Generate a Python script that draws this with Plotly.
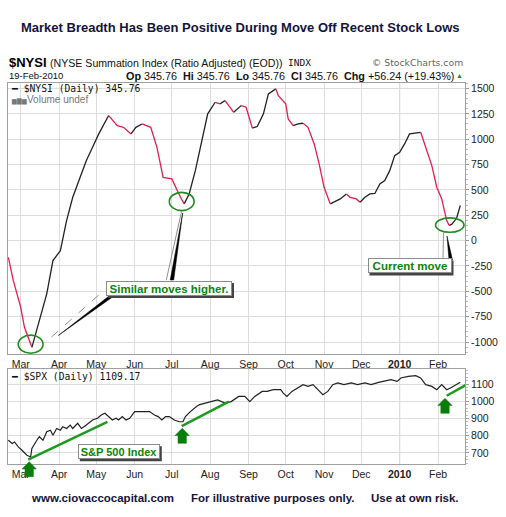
import plotly.graph_objects as go

# NYSE Summation Index (ratio adjusted)
nysi_dates = [
    "2009-02-19", "2009-02-23", "2009-03-01", "2009-03-04", "2009-03-10", "2009-03-16",
    "2009-03-22", "2009-03-27", "2009-04-02", "2009-04-07", "2009-04-12", "2009-04-17",
    "2009-04-23", "2009-04-28", "2009-05-03", "2009-05-11", "2009-05-18", "2009-05-23",
    "2009-05-29", "2009-06-02", "2009-06-07", "2009-06-14", "2009-06-19", "2009-06-24",
    "2009-07-01", "2009-07-04", "2009-07-08", "2009-07-11", "2009-07-15", "2009-07-20",
    "2009-07-25", "2009-07-30", "2009-08-05", "2009-08-09", "2009-08-13", "2009-08-20",
    "2009-08-26", "2009-08-30", "2009-09-04", "2009-09-08", "2009-09-13", "2009-09-17",
    "2009-09-23", "2009-09-25", "2009-10-01", "2009-10-03", "2009-10-07", "2009-10-11",
    "2009-10-15", "2009-10-19", "2009-10-24", "2009-10-28", "2009-11-01", "2009-11-06",
    "2009-11-12", "2009-11-14", "2009-11-19", "2009-11-22", "2009-11-27", "2009-11-30",
    "2009-12-04", "2009-12-08", "2009-12-12", "2009-12-16", "2009-12-20", "2009-12-24",
    "2009-12-28", "2010-01-01", "2010-01-05", "2010-01-09", "2010-01-14", "2010-01-18",
    "2010-01-22", "2010-01-27", "2010-01-31", "2010-02-04", "2010-02-08", "2010-02-10",
    "2010-02-12", "2010-02-16", "2010-02-17", "2010-02-18", "2010-02-19",
]
nysi_values = [
    -165, -395, -658, -855, -1052, -789,
    -525, -197, -99, 197, 427, 592,
    789, 920, 1052, 1233, 1134, 1117,
    1052, 1117, 1150, 1117, 920, 624,
    608, 526, 427, 362, 460, 690,
    986, 1250, 1364, 1348, 1381, 1265,
    1331, 1315, 1110, 1125, 1250, 1447,
    1496, 1430, 1348, 1200, 1134, 1150,
    1157, 1117, 953, 756, 526, 362,
    394, 411, 460, 427, 411, 378,
    427, 460, 465, 559, 592, 690,
    838, 871, 953, 1052, 1060, 1068,
    920, 739, 526, 411, 197, 150,
    160, 220, 255, 290, 345.76,
]

# S&P 500
spx_dates = [
    "2009-02-19", "2009-02-22", "2009-02-24", "2009-02-27", "2009-03-02", "2009-03-06",
    "2009-03-09", "2009-03-10", "2009-03-14", "2009-03-16", "2009-03-19", "2009-03-22",
    "2009-03-25", "2009-03-27", "2009-03-30", "2009-04-02", "2009-04-04", "2009-04-07",
    "2009-04-10", "2009-04-12", "2009-04-16", "2009-04-19", "2009-04-23", "2009-04-25",
    "2009-04-28", "2009-05-02", "2009-05-05", "2009-05-08", "2009-05-11", "2009-05-14",
    "2009-05-17", "2009-05-19", "2009-05-22", "2009-05-25", "2009-05-28", "2009-06-01",
    "2009-06-05", "2009-06-09", "2009-06-13", "2009-06-17", "2009-06-20", "2009-06-23",
    "2009-06-26", "2009-06-29", "2009-07-03", "2009-07-07", "2009-07-10", "2009-07-12",
    "2009-07-16", "2009-07-21", "2009-07-23", "2009-07-28", "2009-08-02", "2009-08-07",
    "2009-08-13", "2009-08-18", "2009-08-24", "2009-08-29", "2009-09-02", "2009-09-06",
    "2009-09-12", "2009-09-16", "2009-09-21", "2009-09-27", "2009-09-29", "2009-10-02",
    "2009-10-06", "2009-10-11", "2009-10-15", "2009-10-19", "2009-10-23", "2009-10-27",
    "2009-10-31", "2009-11-04", "2009-11-08", "2009-11-12", "2009-11-17", "2009-11-23",
    "2009-11-28", "2009-12-04", "2009-12-09", "2009-12-15", "2009-12-20", "2009-12-25",
    "2009-12-30", "2010-01-02", "2010-01-08", "2010-01-14", "2010-01-18", "2010-01-22",
    "2010-01-27", "2010-01-31", "2010-02-04", "2010-02-08", "2010-02-11", "2010-02-15",
    "2010-02-18", "2010-02-19",
]
spx_values = [
    774, 755, 764, 735, 716, 687,
    677, 726, 774, 794, 774, 823,
    832, 803, 842, 832, 852, 842,
    862, 842, 872, 842, 862, 872,
    891, 901, 920, 930, 911, 891,
    901, 891, 911, 891, 901, 940,
    940, 940, 940, 920, 911, 891,
    911, 911, 891, 881, 881, 911,
    940, 969, 979, 989, 998, 1008,
    989, 998, 1028, 1028, 998, 1028,
    1057, 1057, 1067, 1067, 1047, 1028,
    1057, 1077, 1096, 1086, 1096, 1067,
    1038, 1057, 1096, 1106, 1096, 1106,
    1096, 1106, 1096, 1109, 1115, 1125,
    1115, 1135, 1144, 1148, 1135, 1096,
    1086, 1067, 1096, 1067, 1077, 1096,
    1106, 1109.17,
]

month_ticks = ["2009-03-01", "2009-04-01", "2009-05-01", "2009-06-01", "2009-07-01", "2009-08-01",
               "2009-09-01", "2009-10-01", "2009-11-01", "2009-12-01", "2010-01-01", "2010-02-01"]
month_labels = ["Mar", "Apr", "May", "Jun", "Jul", "Aug", "Sep", "Oct", "Nov", "Dec", "<b>2010</b>", "Feb"]
nysi_ticks = [-1000, -750, -500, -250, 0, 250, 500, 750, 1000, 1250, 1500]
spx_ticks = [700, 800, 900, 1000, 1100]

RED = "#e0204a"
BLACK = "#222222"
GREEN = "#1e9a1e"
DKGREEN = "#0b7d0b"
GRID = "#dddddd"
FRAME = "#a0a0a0"
NAVY = "#14143c"

# plot area in page pixels
L, R, T, B = 8, 465, 83, 464


def P(x, y):
    return (x - L) / (R - L), (B - y) / (B - T)


def path(pts, close=True):
    s = ""
    for i, (x, y) in enumerate(pts):
        px, py = P(x, y)
        s += ("M" if i == 0 else "L") + f"{px:.5f},{py:.5f} "
    return s + ("Z" if close else "")


# split NYSI into falling (red) and rising (black) runs
red_x, red_y, blk_x, blk_y = [], [], [], []
prev = None
for i in range(len(nysi_values) - 1):
    falling = nysi_values[i + 1] < nysi_values[i]
    xs, ys = (red_x, red_y) if falling else (blk_x, blk_y)
    if prev is None or prev != falling:
        if xs:
            xs.append(None)
            ys.append(None)
        xs.append(nysi_dates[i])
        ys.append(nysi_values[i])
    xs.append(nysi_dates[i + 1])
    ys.append(nysi_values[i + 1])
    prev = falling

fig = go.Figure()
fig.add_trace(go.Scatter(x=blk_x, y=blk_y, mode="lines", line=dict(color=BLACK, width=1.3),
                         connectgaps=False, showlegend=False, hoverinfo="skip"))
fig.add_trace(go.Scatter(x=red_x, y=red_y, mode="lines", line=dict(color=RED, width=1.3),
                         connectgaps=False, showlegend=False, hoverinfo="skip"))
fig.add_trace(go.Scatter(x=spx_dates, y=spx_values, mode="lines", line=dict(color=BLACK, width=1.2),
                         xaxis="x2", yaxis="y2", showlegend=False))

XR = ["2009-02-18 17:00", "2010-02-22 19:00"]
tickfont = dict(family="Arial", size=10.5, color="#222222")
xcommon = dict(type="date", range=XR, tickmode="array", tickvals=month_ticks, ticktext=month_labels,
               showgrid=True, gridcolor=GRID, ticks="", showline=True, linecolor=FRAME, mirror=True,
               zeroline=False, tickfont=tickfont, fixedrange=True)
ycommon = dict(side="right", showgrid=True, gridcolor=GRID, showline=True, linecolor=FRAME, mirror=True,
               ticks="outside", ticklen=3, tickcolor="#999999", zeroline=False, tickfont=tickfont,
               tickmode="array", fixedrange=True)

fig.update_layout(
    width=506, height=517,
    margin=dict(l=L, r=506 - R, t=T, b=517 - B, pad=0),
    paper_bgcolor="white", plot_bgcolor="white",
    showlegend=False,
    xaxis=dict(xcommon, anchor="y"),
    yaxis=dict(ycommon, domain=[(B - 354) / (B - T), 1], range=[-1118, 1554], tickvals=nysi_ticks,
               ticktext=[str(v) for v in nysi_ticks],
               minor=dict(ticks="outside", ticklen=2, tickcolor="#bbbbbb", dtick=50, showgrid=False)),
    xaxis2=dict(xcommon, anchor="y2"),
    yaxis2=dict(ycommon, anchor="x2", domain=[0, (B - 369) / (B - T)], range=[636, 1187],
                tickvals=spx_ticks, ticktext=[str(v) for v in spx_ticks],
                minor=dict(ticks="outside", ticklen=2, tickcolor="#bbbbbb", dtick=20, showgrid=False)),
)

shapes = []
# darker year-start gridline
for xr, yr in (("x", "y domain"), ("x2", "y2 domain")):
    shapes.append(dict(type="line", xref=xr, yref=yr, x0="2010-01-01", x1="2010-01-01", y0=0, y1=1,
                       line=dict(color="#b0b0b0", width=1), layer="below"))

# green ellipses round the lows
for x0, x1, y0, y1 in (("2009-02-27", "2009-03-19", -1110, -932),
                       ("2009-06-29", "2009-07-19", 296, 476),
                       ("2010-01-30", "2010-02-22", 82, 224)):
    shapes.append(dict(type="circle", xref="x", yref="y", x0=x0, x1=x1, y0=y0, y1=y1,
                       line=dict(color="#1e8c1e", width=1.6)))

# green trend lines on the S&P panel
for x0, y0, x1, y1 in (("2009-03-07", 661, "2009-05-10", 881),
                       ("2009-07-09", 856, "2009-08-16", 998),
                       ("2010-02-08", 1032, "2010-02-24", 1096)):
    shapes.append(dict(type="line", xref="x2", yref="y2", x0=x0, y0=y0, x1=x1, y1=y1,
                       line=dict(color=GREEN, width=2.5)))

# callout pointers
for pts in ([(182.7, 213), (170.2, 280), (173.7, 280)],
            [(58.3, 335.5), (109, 296), (114, 296)],
            [(447, 236), (449, 260), (452.5, 260)]):
    shapes.append(dict(type="path", xref="paper", yref="paper", path=path(pts),
                       fillcolor="black", line=dict(color="black", width=0.5)))
for pts, dash in (([(181.5, 211.5), (166.3, 280)], "solid"),
                  ([(51.5, 337), (101, 293)], "dash"),
                  ([(443.5, 233), (443, 259.5)], "solid")):
    shapes.append(dict(type="path", xref="paper", yref="paper", path=path(pts, close=False),
                       line=dict(color="#909090", width=1, dash=dash)))

# green up-arrows
for cx, ty in ((29.2, 461.7), (182.2, 428.3), (445, 398.3)):
    pts = [(cx, ty), (cx + 7.2, ty + 7.3), (cx + 4.2, ty + 7.3), (cx + 4.2, ty + 15),
           (cx - 4.2, ty + 15), (cx - 4.2, ty + 7.3), (cx - 7.2, ty + 7.3)]
    shapes.append(dict(type="path", xref="paper", yref="paper", path=path(pts),
                       fillcolor=DKGREEN, line=dict(color=DKGREEN, width=0.5)))

ann = []


def text(x, y, s, size, family="Arial", color="#111111", anchor="left"):
    px, py = P(x, y)
    ann.append(dict(xref="paper", yref="paper", x=px, y=py, text=s, showarrow=False,
                    xanchor=anchor, yanchor="middle", font=dict(family=family, size=size, color=color)))


text(240.8, 28, "<b>Market Breadth Has Been Positive During Move Off Recent Stock Lows</b>", 13, color=NAVY,
     anchor="center")
text(7, 63, "<b>$NYSI</b>", 13, color="#000000")
text(47.5, 63, "(NYSE Summation Index (Ratio Adjusted) (EOD))", 10.6)
text(286, 63, "INDX", 9.5, family="DejaVu Sans Mono")
text(465, 63, "© StockCharts.com", 9.3, family="DejaVu Sans", color="#666666", anchor="right")
text(7, 75.5, "19-Feb-2010", 9.5)
text(456, 75.5, "<b>Op</b> 345.76  <b>Hi</b> 345.76  <b>Lo</b> 345.76  <b>Cl</b> 345.76  "
                "<b>Chg</b> +56.24 (+19.43%)", 10.8, anchor="right")
text(465, 75.5, "▲", 7, color="#2a8a2a", anchor="right")
text(9, 89, "━ $NYSI (Daily) 345.76", 9.7, family="DejaVu Sans Mono")
text(9, 99.5, "<span style='font-size:6px'>▆▇▆</span>Volume undef", 10, color="#777777")
text(9, 376, "━ $SPX (Daily) 1109.17", 9.7, family="DejaVu Sans Mono")
text(29, 498, "<b>www.ciovaccocapital.com</b>", 11.5, color=NAVY)
text(189, 498, "<b>For illustrative purposes only.</b>", 11.5, color=NAVY)
text(369, 498, "<b>Use at own risk.</b>", 11.5, color=NAVY)


def callout(cx, cy, s, w, size):
    # drop shadow drawn as a rectangle, box and text as one annotation
    x0, y1 = P(cx - w / 2 - 1 + 2, cy - 7.5 + 2)
    x1, y0 = P(cx + w / 2 + 1 + 2, cy + 7.5 + 2)
    shapes.append(dict(type="rect", xref="paper", yref="paper", x0=x0, x1=x1, y0=y0, y1=y1,
                       fillcolor="#444444", line=dict(width=0)))
    px, py = P(cx, cy)
    ann.append(dict(xref="paper", yref="paper", x=px, y=py, text="<b>" + s + "</b>", showarrow=False,
                    xanchor="center", yanchor="middle", width=w, height=13, bgcolor="white",
                    bordercolor="#8c8c8c", borderwidth=1, borderpad=0,
                    font=dict(family="Arial", size=size, color="#0a850a")))


callout(169, 288.5, "Similar moves higher.", 124, 11.5)
callout(409.5, 265.9, "Current move", 82, 11.5)
callout(118.8, 451.7, "S&amp;P 500 Index", 80, 11)

fig.update_layout(shapes=shapes, annotations=ann)
# the page body has a default 8px margin; drop it so the figure sits at the window origin
fig.write_html("out.html", config={"displayModeBar": False},
               post_script="document.body.style.margin = '0px';")
